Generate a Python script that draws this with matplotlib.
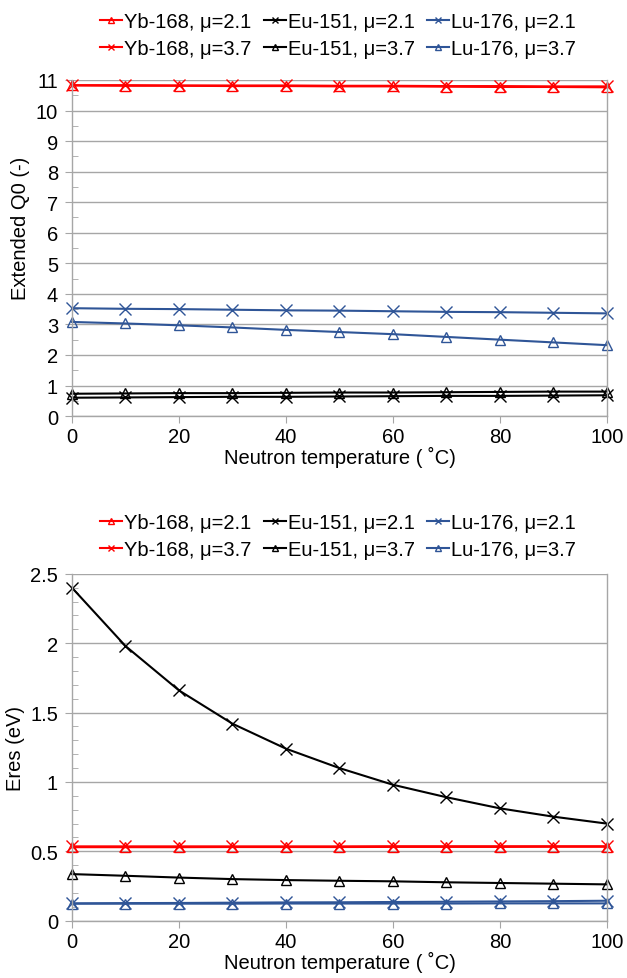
import matplotlib
matplotlib.use("Agg")
import matplotlib.pyplot as plt
from matplotlib.ticker import MultipleLocator

plt.rcParams["font.family"] = ["Liberation Sans", "DejaVu Sans"]

# ---------- data ----------
temps = [0, 10, 20, 30, 40, 50, 60, 70, 80, 90, 100]

# Extended Q0 (-)
q0_yb_21 = [10.82, 10.81, 10.81, 10.80, 10.80, 10.79, 10.79, 10.78, 10.77, 10.77, 10.76]
q0_yb_37 = [10.83, 10.83, 10.82, 10.82, 10.82, 10.81, 10.81, 10.80, 10.80, 10.79, 10.79]
q0_eu_21 = [0.60, 0.61, 0.62, 0.63, 0.63, 0.64, 0.65, 0.66, 0.66, 0.67, 0.68]
q0_eu_37 = [0.73, 0.74, 0.75, 0.75, 0.76, 0.77, 0.77, 0.78, 0.79, 0.80, 0.80]
q0_lu_21 = [3.53, 3.51, 3.50, 3.48, 3.46, 3.45, 3.43, 3.41, 3.40, 3.38, 3.36]
q0_lu_37 = [3.08, 3.03, 2.97, 2.90, 2.82, 2.75, 2.68, 2.59, 2.50, 2.41, 2.32]

# Eres (eV)
er_yb_21 = [0.530, 0.530, 0.530, 0.531, 0.531, 0.531, 0.532, 0.532, 0.532, 0.533, 0.533]
er_yb_37 = [0.536, 0.536, 0.536, 0.536, 0.536, 0.536, 0.537, 0.537, 0.537, 0.537, 0.537]
er_eu_21 = [2.40, 1.98, 1.66, 1.42, 1.24, 1.10, 0.98, 0.89, 0.81, 0.75, 0.70]
er_eu_37 = [0.336, 0.324, 0.311, 0.300, 0.293, 0.288, 0.284, 0.277, 0.272, 0.267, 0.262]
er_lu_21 = [0.125, 0.127, 0.128, 0.130, 0.132, 0.133, 0.135, 0.137, 0.139, 0.141, 0.144]
er_lu_37 = [0.123, 0.123, 0.123, 0.123, 0.124, 0.124, 0.124, 0.124, 0.125, 0.125, 0.125]

labels = ["Yb-168, μ=2.1", "Yb-168, μ=3.7", "Eu-151, μ=2.1",
          "Eu-151, μ=3.7", "Lu-176, μ=2.1", "Lu-176, μ=3.7"]

RED, BLACK, BLUE = "#FF0000", "#000000", "#2F5597"
GRID = "#A6A6A6"
FS = 14.5
styles = [(RED, "^"), (RED, "x"), (BLACK, "x"),
          (BLACK, "^"), (BLUE, "x"), (BLUE, "^")]


def draw(ax, series, ymax, major, minor, ylabel, ylab_y=0.5):
    handles = []
    for vals, (col, mk), lab in zip(series, styles, labels):
        h, = ax.plot(temps, vals, color=col, lw=1.5, marker=mk,
                     markersize=8 if mk == "x" else 7,
                     markerfacecolor="none", markeredgecolor=col,
                     markeredgewidth=1.0, label=lab, clip_on=False)
        handles.append(h)
    ax.set_xlim(0, 100)
    ax.set_ylim(0, ymax)
    ax.xaxis.set_major_locator(MultipleLocator(20))
    ax.yaxis.set_major_locator(MultipleLocator(major))
    ax.yaxis.set_minor_locator(MultipleLocator(minor))
    ax.grid(axis="y", which="major", color=GRID, lw=1.0)
    ax.set_axisbelow(True)
    for s in ["left", "bottom", "right"]:
        ax.spines[s].set_color(GRID)
        ax.spines[s].set_linewidth(1.0)
    ax.spines["top"].set_visible(False)
    ax.tick_params(axis="both", which="major", direction="out", length=5,
                   color=GRID, labelsize=FS, pad=3)
    ax.tick_params(axis="y", which="major", pad=5)
    ax.tick_params(axis="y", which="minor", direction="in", length=4,
                   color=GRID)
    ax.tick_params(axis="x", which="minor", bottom=False)
    ax.set_xlabel("Neutron temperature ( ˚C)", fontsize=FS, labelpad=0)
    ax.set_ylabel(ylabel, fontsize=FS, labelpad=4)
    ax.yaxis.label.set_y(ylab_y)
    return handles


fig = plt.figure(figsize=(6.27, 9.79), dpi=100)
ax1 = fig.add_axes([0.1148, 0.574, 0.8532, 0.3433])
ax2 = fig.add_axes([0.1148, 0.0585, 0.8532, 0.3543])

h1 = draw(ax1, [q0_yb_21, q0_yb_37, q0_eu_21, q0_eu_37, q0_lu_21, q0_lu_37],
          11, 1, 0.5, "Extended Q0 (-)", ylab_y=0.56)
h2 = draw(ax2, [er_yb_21, er_yb_37, er_eu_21, er_eu_37, er_lu_21, er_lu_37],
          2.5, 0.5, 0.1, "Eres (eV)")
ax2.yaxis.set_major_formatter(lambda v, p: f"{v:g}")

# legend order: row 1 = mu 2.1, row 2 = mu 3.7 (filled column-wise)
for hs, ycen in [(h1, 1 - 36 / 979), (h2, 1 - 537 / 979)]:
    fig.legend(hs, labels, ncol=3, loc="center",
               bbox_to_anchor=(338 / 627, ycen), frameon=False,
               fontsize=FS, handlelength=1.1, handletextpad=0.1,
               columnspacing=0.6, labelspacing=0.4, borderpad=0,
               markerscale=0.6)

fig.savefig("out.png", dpi=100)
